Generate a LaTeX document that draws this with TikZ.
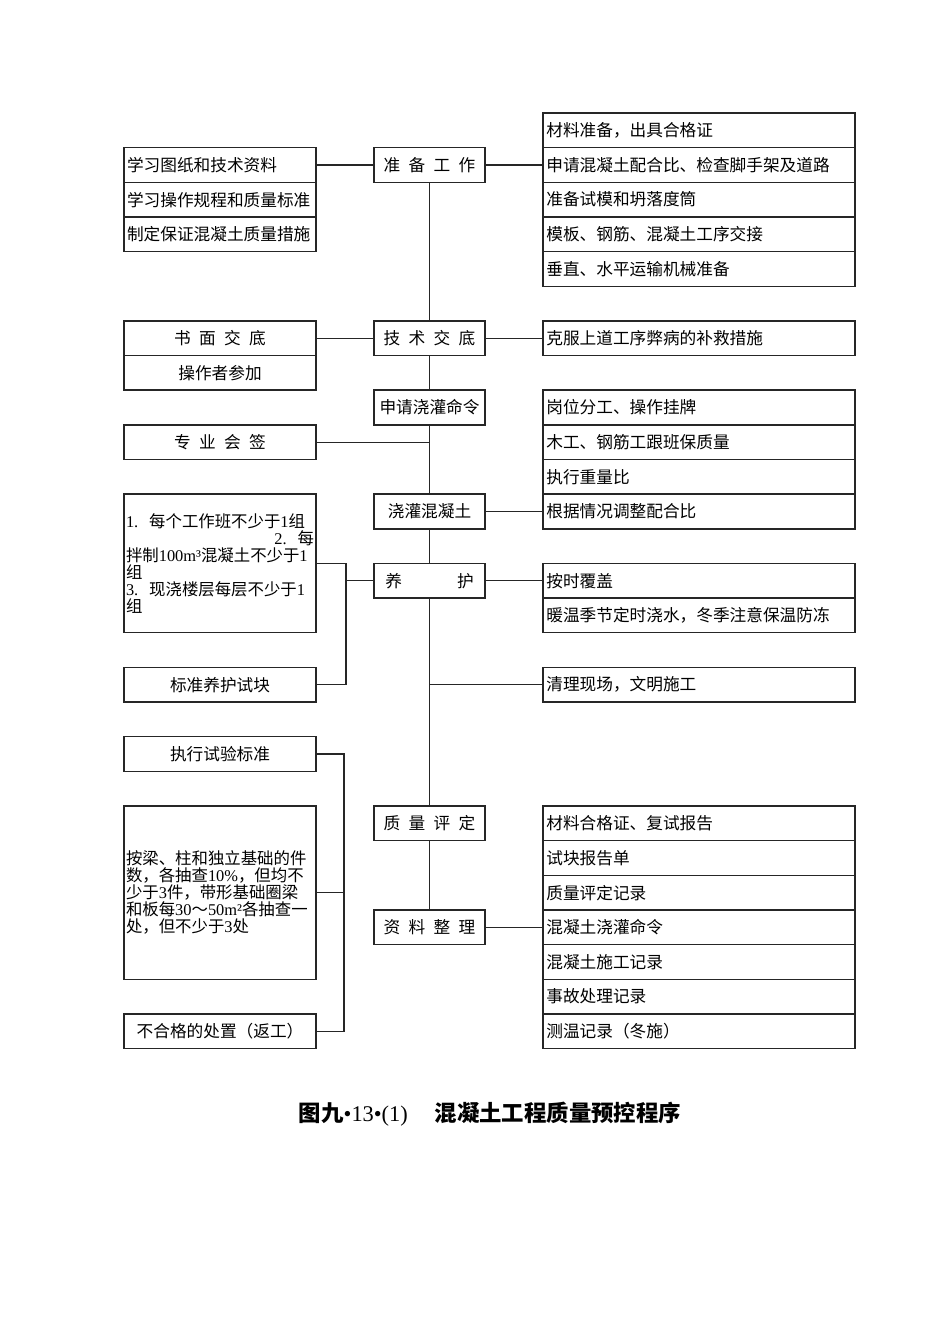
\documentclass[tikz,border=0pt]{standalone}
\usepackage{fontspec}
\setmainfont{Noto Sans CJK SC}
\newfontfamily\lat{Liberation Serif}
\newcommand\kgap{\hspace{0.5em}}
\newcommand\lt[1]{{\lat #1}}
\begin{document}
\begin{tikzpicture}[x=0.75pt,y=-0.75pt,
  base/.style={draw=black!85, line width=1.1pt, inner sep=0pt, font=\fontsize{12.5}{12.75}\selectfont},
  lbox/.style={base, minimum width=144pt, minimum height=25.99pt},
  ltbox/.style={lbox, text width=139.5pt, align=left},
  bigbox/.style={lbox, text width=141pt, align=left, font=\fontsize{12.3}{12.75}\selectfont},
  cbox/.style={base, minimum width=83.25pt, minimum height=25.99pt},
  rbox/.style={base, minimum width=234pt, minimum height=25.99pt, text width=229pt, align=left},
  conn/.style={draw=black!85, line width=1pt}]
\useasboundingbox (0,0) rectangle (950,1344);
% ---------- right column ----------
\node[rbox] (r0) at (699,130.33) {材料准备，出具合格证};
\node[rbox] (r1) at (699,164.98) {申请混凝土配合比、检查脚手架及道路};
\node[rbox] (r2) at (699,199.63) {准备试模和坍落度筒};
\node[rbox] (r3) at (699,234.28) {模板、钢筋、混凝土工序交接};
\node[rbox] (r4) at (699,268.93) {垂直、水平运输机械准备};
\node[rbox] (r6) at (699,338.23) {克服上道工序弊病的补救措施};
\node[rbox] (r8) at (699,407.53) {岗位分工、操作挂牌};
\node[rbox] (r9) at (699,442.18) {木工、钢筋工跟班保质量};
\node[rbox] (r10) at (699,476.83) {执行重量比};
\node[rbox] (r11) at (699,511.48) {根据情况调整配合比};
\node[rbox] (r13) at (699,580.78) {按时覆盖};
\node[rbox] (r14) at (699,615.43) {暖温季节定时浇水，冬季注意保温防冻};
\node[rbox] (r16) at (699,684.73) {清理现场，文明施工};
\node[rbox] (r20) at (699,823.33) {材料合格证、复试报告};
\node[rbox] (r21) at (699,857.98) {试块报告单};
\node[rbox] (r22) at (699,892.63) {质量评定记录};
\node[rbox] (r23) at (699,927.28) {混凝土浇灌命令};
\node[rbox] (r24) at (699,961.93) {混凝土施工记录};
\node[rbox] (r25) at (699,996.58) {事故处理记录};
\node[rbox] (r26) at (699,1031.23) {测温记录（冬施）};
% ---------- center column ----------
\node[cbox] (c1) at (429.5,164.98) {准\kgap 备\kgap 工\kgap 作};
\node[cbox] (c6) at (429.5,338.23) {技\kgap 术\kgap 交\kgap 底};
\node[cbox] (c8) at (429.5,407.53) {申请浇灌命令};
\node[cbox] (c11) at (429.5,511.48) {浇灌混凝土};
\node[cbox] (c13) at (429.5,580.78) {养\hspace{3.3em}护};
\node[cbox] (c20) at (429.5,823.33) {质\kgap 量\kgap 评\kgap 定};
\node[cbox] (c23) at (429.5,927.28) {资\kgap 料\kgap 整\kgap 理};
% ---------- left column ----------
\node[ltbox] (l1) at (220,164.98) {学习图纸和技术资料};
\node[ltbox] (l2) at (220,199.63) {学习操作规程和质量标准};
\node[ltbox] (l3) at (220,234.28) {制定保证混凝土质量措施};
\node[lbox] (l6) at (220,338.23) {书\kgap 面\kgap 交\kgap 底};
\node[lbox] (l7) at (220,372.88) {操作者参加};
\node[lbox] (l9) at (220,442.18) {专\kgap 业\kgap 会\kgap 签};
\node[bigbox, minimum height=103.95pt] (lb1) at (220,563.45)
  {\lt{1.\ \ }每个工作班不少于\lt{1}组\\
   \makebox[141pt][r]{\lt{2.\ \ }每}\\
   拌制\lt{100m³}混凝土不少于\lt{1}\\
   组\\
   \lt{3.\ \ }现浇楼层每层不少于\lt{1}\\
   组};
\node[lbox] (l16) at (220,684.73) {标准养护试块};
\node[lbox] (l18) at (220,754.03) {执行试验标准};
\node[bigbox, minimum height=129.94pt] (lb2) at (220,892.63)
  {按梁、柱和独立基础的件\\
   数，各抽查\lt{10\%}，但均不\\
   少于\lt{3}件，带形基础圈梁\\
   和板每\lt{30}～\lt{50m²}各抽查一\\
   处，但不少于\lt{3}处};
\node[lbox] (l26) at (220,1031.23) {不合格的处置（返工）};
% ---------- caption ----------
\node[font=\fontsize{16.8}{18}\selectfont\bfseries] (cap) at (490,1114)
  {图九{\mdseries\lat •13•(1)}\hspace{1.2em}混凝土工程质量预控程序};
% ---------- spine ----------
\draw[conn] (c1.south) -- (c6.north);
\draw[conn] (c6.south) -- (c8.north);
\draw[conn] (c8.south) -- (c11.north);
\draw[conn] (c11.south) -- (c13.north);
\draw[conn] (c13.south) -- (c20.north);
\draw[conn] (c20.south) -- (c23.north);
% ---------- horizontal links ----------
\draw[conn] (l1.east) -- (c1.west);
\draw[conn] (c1.east) -- (r1.west);
\draw[conn] (l6.east) -- (c6.west);
\draw[conn] (c6.east) -- (r6.west);
\draw[conn] (l9.east) -- (l9.east -| c11.center);
\draw[conn] (c11.east) -- (r11.west);
\draw[conn] (c13.east) -- (r13.west);
\draw[conn] (r16.west) -- (r16.west -| c11.center);
\draw[conn] (c23.east) -- (r23.west);
% ---------- bracket 1 ----------
\coordinate (k1) at (346,563.45);
\draw[conn] (lb1.east) -- (k1) |- (l16.east);
\draw[conn] (c13.west) -- (c13.west -| k1);
% ---------- bracket 2 ----------
\coordinate (k2) at (344,754.03);
\draw[conn] (l18.east) -- (k2) |- (l26.east);
\draw[conn] (lb2.east) -- (lb2.east -| k2);
\end{tikzpicture}
\end{document}
